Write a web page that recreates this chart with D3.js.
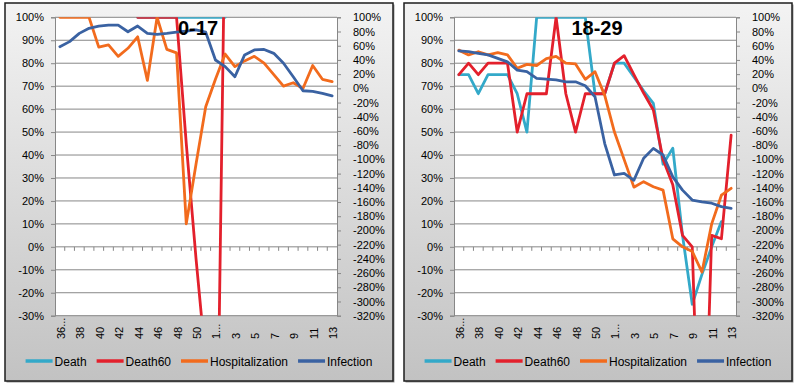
<!DOCTYPE html>
<html>
<head>
<meta charset="utf-8">
<script src="https://cdn.jsdelivr.net/npm/d3@7"></script>
<style>
  body { margin: 0; background: #fff; }
  svg text { font-family: "Liberation Sans", Arial, sans-serif; fill: #000; }
</style>
</head>
<body>
<svg id="chart" width="796" height="388"></svg>
<script>
// category labels (calendar weeks), as the axis shows them
var weeks = ["36...", "37", "38", "39", "40", "41", "42", "43", "44", "45", "46", "47", "48", "49", "50", "51",
             "1...", "2", "3", "4", "5", "6", "7", "8", "9", "10", "11", "12", "13"];
var seriesNames = ["Death", "Death60", "Hospitalization", "Infection"];
var seriesColors = ["#33a9c9", "#e3202c", "#f26b1d", "#3a62a2"];
var leftTicks = d3.range(100, -31, -10);
var rightTicks = d3.range(100, -321, -20);
var titles = ["0-17", "18-29"];

// 0-17 (percent), null = no point
var death017 = [null, null, null, null, null, null, null, null, 100, 100, 100, 100, 100, 100, 100, 100, 100, 100,
                null, null, null, null, null, null, null, null, null, null, null];
var death60017 = [null, null, null, null, null, null, null, null, 100, 100, 100, 100, 100, 45, -5, -50, -150, 150,
                  null, null, null, null, null, null, null, null, null, null, null];
var hosp017 = [100, 100, 100, 100, 87, 88, 83, 86.5, 91.5, 72.5, 100, 86, 84.5, 10, 36, 61, 73, 84, 78.5, 81, 83,
               80, 75, 70, 71.5, 69, 79, 73, 72];
var inf017 = [87.2, 89.4, 93, 95.2, 96.2, 96.6, 96.6, 93.7, 96.2, 93, 92.6, 93, 93.5, 94, 94.5, 93.5, 81.4, 78.5,
              74.1, 83.6, 85.8, 86, 84.3, 80, 74.1, 68, 67.7, 66.9, 65.8];

// 18-29 (percent)
var death1829 = [75, 75, 66.7, 75, 75, 75, 66.7, 50, 100, 100, 100, 100, 100, 100, 66.7, 66.7, 80, 80, 74, 68,
                 62.5, 36, 43, 5, -25, -12, 0, 11, null];
var death601829 = [75, 80, 75, 80, 80, 80, 50, 66.7, 66.7, 66.7, 100, 66.7, 50, 66.7, 66.7, 66.7, 80, 83.3, 75,
                   67, 59.6, 38, 27, 5, 0, -130, 5, 3.5, 48.7];
var hosp1829 = [85.7, 83.6, 85, 83.6, 84.6, 83.6, 77.8, 79.5, 79, 82, 83, 80, 79.7, 73, 76.3, 66, 50, 38, 26,
                28.4, 26.2, 24.7, 3.5, 0, -2, -11, 10, 22.5, 25.5];
var inf1829 = [85.4, 85, 84.3, 83.6, 82.1, 80.6, 77, 76.3, 73.4, 73.1, 72.7, 71.9, 71.9, 70.2, 65.4, 45, 31.3, 32,
               29, 38.6, 42.9, 40, 30.5, 24.7, 20.4, 19.6, 19, 17.5, 16.8];

var panelW = 388, panelH = 378;
var plotL = 50, plotR = 332, plotT = 14.3, plotB = 312.7;

var svg = d3.select("#chart");
var defs = svg.append("defs");
var grad = defs.append("linearGradient").attr("id", "panelFill")
               .attr("x1", 0).attr("y1", 0).attr("x2", 0).attr("y2", 1);
grad.append("stop").attr("offset", "0%").attr("stop-color", "#f3f3f3");
grad.append("stop").attr("offset", "100%").attr("stop-color", "#c2c2c2");

function drawPanel(x0, idx, title, data) {
  var g = svg.append("g").attr("transform", "translate(" + x0 + ",3)");

  // frame with a small shadow
  g.append("rect").attr("x", 1.5).attr("y", 1.5).attr("width", panelW).attr("height", panelH).attr("fill", "#9a9a9a");
  g.append("rect").attr("width", panelW).attr("height", panelH)
   .attr("fill", "url(#panelFill)").attr("stroke", "#1e1e1e").attr("stroke-width", 1.5);
  g.append("rect").attr("x", plotL).attr("y", plotT).attr("width", plotR - plotL).attr("height", plotB - plotT)
   .attr("fill", "#fff");

  var x = d3.scaleBand().domain(d3.range(weeks.length)).range([plotL, plotR]).padding(0);
  var xc = function(i) { return x(i) + x.bandwidth() / 2; };
  var y = d3.scaleLinear().domain([-30, 100]).range([plotB, plotT]);
  var yR = d3.scaleLinear().domain([-320, 100]).range([plotB, plotT]);

  // gridlines
  g.selectAll(".grid").data(leftTicks).enter().append("line")
   .attr("x1", plotL).attr("x2", plotR).attr("y1", function(d) { return y(d); }).attr("y2", function(d) { return y(d); })
   .attr("stroke", "#878787").attr("stroke-width", 1);

  // left and right axes
  var ax = g.append("g").attr("transform", "translate(" + plotL + ",0)")
            .call(d3.axisLeft(y).tickValues(leftTicks).tickFormat(function(d) { return d + "%"; }).tickSize(4).tickPadding(7));
  var axR = g.append("g").attr("transform", "translate(" + plotR + ",0)")
             .call(d3.axisRight(yR).tickValues(rightTicks).tickFormat(function(d) { return d + "%"; }).tickSize(4).tickPadding(12));
  [ax, axR].forEach(function(a) {
    a.attr("font-family", null).attr("font-size", 11);
    a.selectAll("path").attr("stroke", "#878787");
    a.selectAll("line").attr("stroke", "#878787");
  });

  // category tick marks on the 0% line
  g.selectAll(".xtick").data(d3.range(1, weeks.length)).enter().append("line")
   .attr("x1", function(i) { return x(i); }).attr("x2", function(i) { return x(i); })
   .attr("y1", y(0)).attr("y2", y(0) + 4).attr("stroke", "#878787");

  // category labels, every second one, below the plot
  g.selectAll(".xlab").data(weeks).enter().append("text")
   .filter(function(d, i) { return i % 2 == 0; })
   .attr("transform", function(d, i) { return "translate(" + (xc(i * 2) + 5) + ",336) rotate(-90)"; })
   .attr("font-size", 11).text(function(d) { return d; });

  // series lines, clipped to the plot area (clip rect is in svg coords)
  var clipId = "clip" + idx;
  defs.append("clipPath").attr("id", clipId).append("rect")
      .attr("x", x0 + plotL).attr("y", 3 + plotT).attr("width", plotR - plotL).attr("height", plotB - plotT);
  var line = d3.line().defined(function(d) { return d != null; })
               .x(function(d, i) { return xc(i); }).y(function(d) { return y(d); });
  var clipped = svg.append("g").attr("clip-path", "url(#" + clipId + ")")
                   .append("g").attr("transform", "translate(" + x0 + ",3)");
  data.forEach(function(vals, k) {
    clipped.append("path").datum(vals).attr("d", line)
           .attr("fill", "none").attr("stroke", seriesColors[k]).attr("stroke-width", 2.8)
           .attr("stroke-linejoin", "round").attr("stroke-linecap", "round");
  });

  // title on top of the lines
  svg.append("text").attr("x", x0 + (plotL + plotR) / 2 + 2).attr("y", 35)
     .attr("text-anchor", "middle").attr("font-size", 20).attr("font-weight", "bold").text(title);

  // legend, centred under the plot
  var leg = g.append("g");
  var pos = 0;
  seriesNames.forEach(function(name, k) {
    leg.append("line").attr("x1", pos).attr("x2", pos + 27).attr("y1", 0).attr("y2", 0)
       .attr("stroke", seriesColors[k]).attr("stroke-width", 3.5);
    var t = leg.append("text").attr("x", pos + 29).attr("y", 4.5).attr("font-size", 12).text(name);
    pos += 29 + t.node().getComputedTextLength() + 10;
  });
  pos -= 10;
  leg.attr("transform", "translate(" + (panelW / 2 - pos / 2) + ",358)");
}

drawPanel(5, 0, titles[0], [death017, death60017, hosp017, inf017]);
drawPanel(404, 1, titles[1], [death1829, death601829, hosp1829, inf1829]);
</script>
</body>
</html>
